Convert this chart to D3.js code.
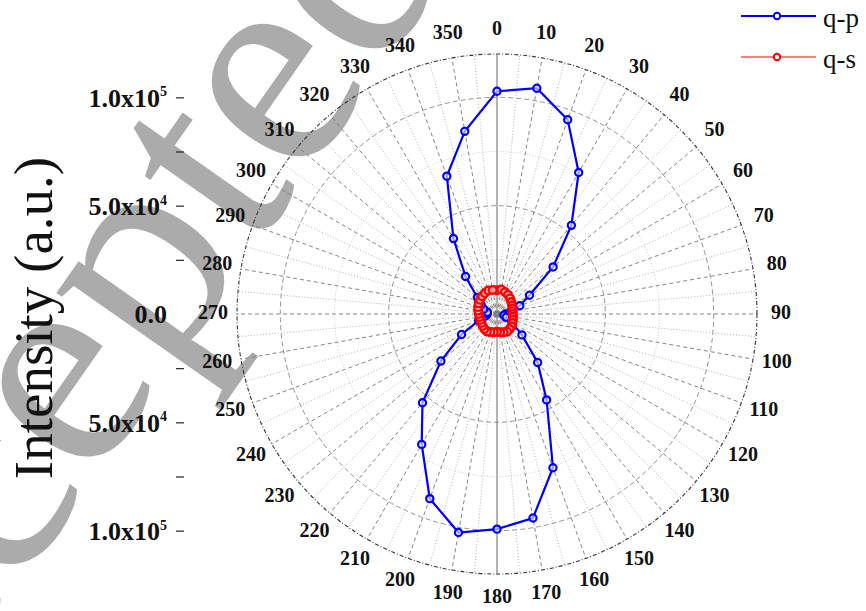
<!DOCTYPE html>
<html>
<head>
<meta charset="utf-8">
<script src="https://cdn.jsdelivr.net/npm/d3@7"></script>
<style>
  body { margin: 0; background: #fff; }
  svg { display: block; }
</style>
</head>
<body>
<div id="chart"></div>
<script>
// polarisation angle (deg), clockwise from top
var angles = [0, 10, 20, 30, 40, 50, 60, 70, 80, 90, 100, 110, 120, 130, 140, 150, 160, 170,
  180, 190, 200, 210, 220, 230, 240, 250, 260, 270, 280, 290, 300, 310, 320, 330, 340, 350];

// intensity (a.u.)
var qp = [102800, 105800, 95400, 75400, 53400, 33800, 17300, 11200, 6500, 4000, 3200, 4500,
  8000, 15000, 29200, 45800, 75500, 95600, 99300, 102400, 90700, 69500, 53500, 33800,
  18900, 9000, 5500, 4500, 4500, 6500, 8500, 11800, 22600, 40200, 67700, 85600];
var qs = [11000, 11500, 10800, 10200, 9400, 8600, 8000, 7600, 7400, 7300, 7500, 7800,
  8300, 8800, 9100, 9400, 9000, 8600, 8200, 8500, 8900, 9300, 9000, 8600,
  8300, 8100, 8200, 8400, 8800, 9300, 9800, 10200, 10700, 11200, 11600, 11300];

var seriesNames = ['q-p', 'q-s'];
var angleTicks = ['0', '10', '20', '30', '40', '50', '60', '70', '80', '90', '100', '110', '120',
  '130', '140', '150', '160', '170', '180', '190', '200', '210', '220', '230', '240', '250',
  '260', '270', '280', '290', '300', '310', '320', '330', '340', '350'];
var radialMajor = [50000, 100000];
var radialMinor = [25000, 75000];
var radialLabels = {'50000': ['5.0x10', '4'], '100000': ['1.0x10', '5']};

var W = 866, H = 611;
var cx = 497, cy = 314, R = 260;
var serif = '"Liberation Serif", "Times New Roman", serif';

var svg = d3.select('#chart').append('svg').attr('width', W).attr('height', H);
svg.append('rect').attr('width', W).attr('height', H).attr('fill', '#fff');

// watermark
svg.append('text')
  .attr('transform', 'translate(-188,882) rotate(-55)')
  .attr('font-family', serif)
  .attr('font-size', 300)
  .attr('fill', '#ababab')
  .text('Accepted');

var r = d3.scaleLinear().domain([0, 120000]).range([0, R]);
var toRad = function(a) { return a * Math.PI / 180; };

var g = svg.append('g').attr('transform', 'translate(' + cx + ',' + cy + ')');

// grid: spokes
var spokes = d3.range(0, 360, 5);
g.selectAll('line.spoke').data(spokes).enter().append('line')
  .attr('x1', 0).attr('y1', 0)
  .attr('x2', function(d) { return d3.pointRadial(toRad(d), R)[0]; })
  .attr('y2', function(d) { return d3.pointRadial(toRad(d), R)[1]; })
  .attr('stroke', function(d) { return d % 180 === 0 ? '#8a8a8a' : (d % 10 === 0 ? '#777' : '#aaa'); })
  .attr('stroke-width', function(d) { return d % 180 === 0 ? 1.3 : 0.9; })
  .attr('stroke-dasharray', function(d) { return d % 180 === 0 ? null : (d % 10 === 0 ? '4,3' : '1,2'); });

// grid: circles
g.selectAll('circle.minor').data(radialMinor).enter().append('circle')
  .attr('r', function(d) { return r(d); })
  .attr('fill', 'none').attr('stroke', '#bbb').attr('stroke-width', 0.8).attr('stroke-dasharray', '1,2');
g.selectAll('circle.major').data(radialMajor).enter().append('circle')
  .attr('r', function(d) { return r(d); })
  .attr('fill', 'none').attr('stroke', '#888').attr('stroke-width', 0.9).attr('stroke-dasharray', '5,3');
g.append('circle').attr('r', R)
  .attr('fill', 'none').attr('stroke', '#333').attr('stroke-width', 1.1).attr('stroke-dasharray', '4,2,1,2');

// angle labels
g.selectAll('text.ang').data(angleTicks).enter().append('text')
  .attr('x', function(d) { return d3.pointRadial(toRad(+d), R + 24)[0]; })
  .attr('y', function(d) { return d3.pointRadial(toRad(+d), R + 24)[1] - 2; })
  .attr('text-anchor', 'middle').attr('dominant-baseline', 'central')
  .attr('font-family', serif).attr('font-weight', 'bold').attr('font-size', 20)
  .attr('fill', '#111')
  .text(function(d) { return d; });

// radial axis on the left, mirrored above and below the centre
var yUp = d3.scaleLinear().domain([0, 120000]).range([cy, cy - R]);
var yDown = d3.scaleLinear().domain([0, 120000]).range([cy, cy + R]);
[yUp, yDown].forEach(function(sc) {
  var ax = svg.append('g').attr('transform', 'translate(184,0)')
    .call(d3.axisLeft(sc).tickValues(radialMinor.concat(radialMajor)).tickSize(8).tickPadding(9).tickFormat(''));
  ax.select('.domain').remove();
  ax.selectAll('.tick line').attr('stroke', '#222').attr('stroke-width', 1.2);
  ax.selectAll('.tick text').each(function(d) {
    var lab = radialLabels[String(d)];
    var t = d3.select(this).text(null)
      .attr('font-family', serif).attr('font-weight', 'bold').attr('font-size', 26)
      .attr('fill', '#111').attr('dy', '0.35em');
    if (!lab) return;
    t.append('tspan').text(lab[0]);
    t.append('tspan').attr('dy', '-0.75em').attr('font-size', 14).text(lab[1]);
  });
});
svg.append('text').attr('x', 167).attr('y', cy).attr('dy', '0.35em')
  .attr('text-anchor', 'end')
  .attr('font-family', serif).attr('font-weight', 'bold').attr('font-size', 26).attr('fill', '#111')
  .text('0.0');

// axis title
svg.append('text')
  .attr('transform', 'translate(52,' + (cy + 4) + ') rotate(-90)')
  .attr('text-anchor', 'middle')
  .attr('font-family', serif).attr('font-size', 55).attr('fill', '#111')
  .text('Intensity (a.u.)');

// series
var line = d3.lineRadial()
  .angle(function(d) { return toRad(d[0]); })
  .radius(function(d) { return r(d[1]); })
  .curve(d3.curveLinearClosed);

var series = [
  {name: seriesNames[0], values: qp, color: '#0000ff', width: 2.2, mr: 3.6, mw: 2.2},
  {name: seriesNames[1], values: qs, color: '#ff0000', width: 1, mr: 3.8, mw: 2.4}
];

series.forEach(function(s) {
  var pts = angles.map(function(a, i) { return [a, s.values[i]]; });
  g.append('path').datum(pts).attr('d', line)
    .attr('fill', 'none').attr('stroke', s.color).attr('stroke-width', s.width);
  g.selectAll(null).data(pts).enter().append('circle')
    .attr('cx', function(d) { return d3.pointRadial(toRad(d[0]), r(d[1]))[0]; })
    .attr('cy', function(d) { return d3.pointRadial(toRad(d[0]), r(d[1]))[1]; })
    .attr('r', s.mr)
    .attr('fill', '#fff').attr('fill-opacity', 0.6).attr('stroke', s.color).attr('stroke-width', s.mw);
});

// legend
var leg = svg.append('g').selectAll('g').data(series).enter().append('g')
  .attr('transform', function(d, i) { return 'translate(741,' + (16 + i * 41) + ')'; });
leg.append('line').attr('x1', 0).attr('x2', 75)
  .attr('stroke', function(d) { return d.color; })
  .attr('stroke-width', function(d) { return d.width; });
leg.append('circle').attr('cx', 36).attr('r', 3.2)
  .attr('fill', '#fff').attr('stroke', function(d) { return d.color; }).attr('stroke-width', 2);
leg.append('text').attr('x', 82).attr('y', 11)
  .attr('font-family', serif).attr('font-size', 27).attr('fill', '#111')
  .text(function(d) { return d.name; });
</script>
</body>
</html>
